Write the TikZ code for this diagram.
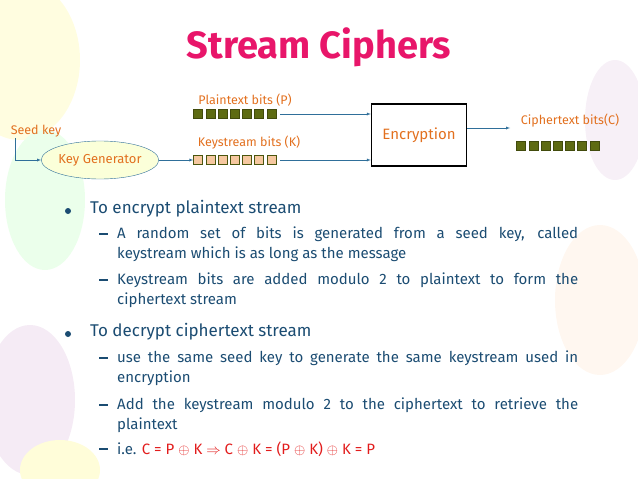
\documentclass[tikz,border=0pt]{standalone}
\usetikzlibrary{shapes.geometric}
\usepackage{fontspec}
\setmainfont{Fira Sans}
\usepackage{amssymb}
\hyphenpenalty=10000
\definecolor{txt}{HTML}{1B4C72}
\definecolor{org}{HTML}{E2701F}
\definecolor{pink}{HTML}{E8166A}
\definecolor{sqd}{HTML}{5E6B12}
\definecolor{sql}{HTML}{F6C8A0}
\definecolor{arr}{HTML}{2F6F9A}
\definecolor{eredd}{HTML}{E21C1C}
\tikzset{
  lab/.style={text=org,font=\fontsize{12.5}{14}\selectfont,inner sep=0pt},
  sqdark/.style={fill=sqd,draw=sqd!70!black,minimum size=9pt,inner sep=0pt},
  sqlight/.style={fill=sql,draw=sqd!80!black,minimum size=9pt,inner sep=0pt},
  conn/.style={draw=arr,-latex},
  bul/.style={anchor=north west,text=txt,inner sep=0pt,font=\fontsize{17}{20}\selectfont},
  bdot/.style={circle,fill=txt,minimum size=6pt,inner sep=0pt},
  sub/.style={anchor=north west,text=txt,inner sep=0pt,text width=461pt,align=justify,font=\fontsize{15}{20}\selectfont},
  dashmk/.style={fill=txt,minimum width=9pt,minimum height=1.6pt,inner sep=0pt},
  eqn/.style={anchor=north west,text=txt,inner sep=0pt,font=\fontsize{15}{20}\selectfont}
}
\begin{document}
\begin{tikzpicture}[x=1pt,y=-1pt]
\useasboundingbox (0,0) rectangle (638,479);
% faint balloons
\fill[yellow!12] (20,60) ellipse (60 and 80);
\fill[green!8] (45,200) ellipse (40 and 70);
\fill[violet!8] (30,400) ellipse (45 and 75);
\fill[yellow!15] (60,470) ellipse (40 and 30);
\fill[orange!6] (600,300) ellipse (45 and 75);
\fill[violet!6] (615,120) ellipse (30 and 60);
% title
\node[text=pink,font=\bfseries\fontsize{38}{42}\selectfont,inner sep=0pt] (title) at (319,47) {Stream Ciphers};
% diagram
\node[lab] (pl) at (245,100) {Plaintext bits (P)};
\node[lab] (ks) at (249,143) {Keystream bits (K)};
\node[lab] (sk) at (36,131) {Seed key};
\node[lab] (ct) at (570,121) {Ciphertext bits(C)};
\node[draw=black,line width=1.4pt,minimum width=95pt,minimum height=62pt,inner sep=0pt,text=org,font=\fontsize{15}{17}\selectfont] (enc) at (419,135) {Encryption};
\node[draw=arr,fill=green!10!yellow!15,ellipse,minimum width=108pt,minimum height=38pt,inner sep=0pt,text=org,font=\fontsize{13}{15}\selectfont] (kg) at (100,160) {Key Generator};
\foreach \i in {0,...,6}{
  \node[sqdark] (p\i) at (198+12.2*\i,114) {};
  \node[sqlight] (k\i) at (198+12.2*\i,160) {};
  \node[sqdark] (c\i) at (521+12.2*\i,146) {};
}
\coordinate (skc) at (15,138);
\draw[conn] (skc) |- (kg.west);
\draw[conn] (kg.east) -- (k0.west);
\draw[conn] (p6.east) ++(4,0) -- (enc.west |- p6);
\draw[conn] (k6.east) ++(4,0) -- (enc.west |- k6);
\coordinate (ca) at (510,128);
\draw[conn] (enc.east |- ca) -- (ca);
% text
\node[bdot] (b1d) at (68,211) {};
\node[bul] (b1) at (90,200) {To encrypt plaintext stream};
\node[dashmk] (m1) at (103,234) {};
\node[sub] (s1) at (117,227) {A random set of bits is generated from a seed key, called\linebreak keystream which is as long as the message};
\node[dashmk] (m2) at (103,280) {};
\node[sub] (s2) at (117,273) {Keystream bits are added modulo 2 to plaintext to form the\linebreak ciphertext stream};
\node[bdot] (b2d) at (68,334) {};
\node[bul] (b2) at (90,323) {To decrypt ciphertext stream};
\node[dashmk] (m3) at (103,358) {};
\node[sub] (s3) at (117,351) {use the same seed key to generate the same keystream used in\linebreak encryption};
\node[dashmk] (m4) at (103,405) {};
\node[sub] (s4) at (117,398) {Add the keystream modulo 2 to the ciphertext to retrieve the\linebreak plaintext};
\node[dashmk] (m5) at (103,449) {};
\node[eqn] (s5) at (117,442) {i.e. \textcolor{eredd}{C = P $\oplus$ K $\Rightarrow$ C $\oplus$ K = (P $\oplus$ K) $\oplus$ K = P}};
\end{tikzpicture}
\end{document}
